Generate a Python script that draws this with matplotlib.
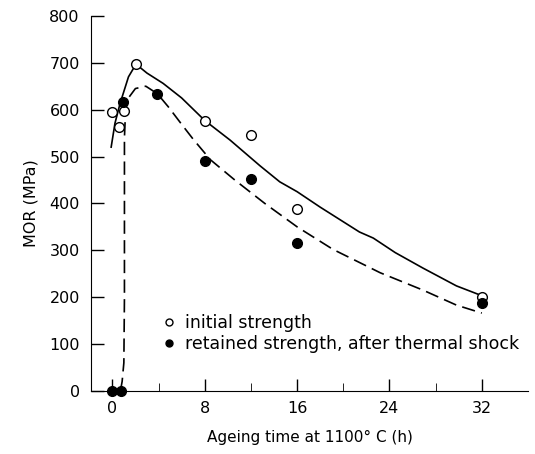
import numpy as np
import matplotlib.pyplot as plt
from matplotlib.lines import Line2D

# measured points (ageing time in h, MOR in MPa)
init_t = [0, 0.6, 1.0, 2.05, 8, 12, 16, 32]
init_mor = [595, 562, 598, 697, 575, 546, 389, 200]

ret_t = [0, 0.75, 0.95, 3.9, 8, 12, 16, 32]
ret_mor = [0, 0, 616, 634, 490, 452, 316, 187]

# hand-drawn trend curves
solid_t = [-0.1, 0.23, 0.67, 1.4, 2.05, 3.0, 4.4, 6.0, 8.0, 10.2, 12.8, 14.5,
           16.0, 18.0, 21.4, 22.6, 24.5, 26.9, 29.8, 31.8]
solid_mor = [520, 571, 613, 670, 697, 678, 656, 625, 577, 535, 480, 446,
             425, 392, 339, 326, 295, 262, 224, 205]

dash_t = [0.7, 0.85, 1.0, 1.05, 1.05, 1.05, 1.15, 1.4, 2.0, 2.9, 3.9, 4.85,
          5.9, 7.0, 8.5, 10.6, 13.2, 16.0, 19.1, 23.2, 26.9, 29.8, 32.0]
dash_mor = [0, 20, 60, 200, 400, 540, 600, 625, 645, 650, 634, 606,
            572, 537, 493, 450, 400, 350, 302, 252, 215, 183, 166]

fig = plt.figure(figsize=(5.35, 4.54), dpi=100)
ax = fig.add_axes([0.170, 0.139, 0.817, 0.826])

ax.plot(solid_t, solid_mor, color='black', lw=1.2)
ax.plot(dash_t, dash_mor, color='black', lw=1.2, dashes=(8, 3.8))
ax.plot(init_t, init_mor, 'o', ms=7, mfc='white', mec='black', mew=1.0, clip_on=False, zorder=3)
ax.plot(ret_t, ret_mor, 'o', ms=7, mfc='black', mec='black', clip_on=False, zorder=3)

ax.set_xlim(-1.85, 36)
ax.set_ylim(0, 800)
ax.spines['top'].set_visible(False)
ax.spines['right'].set_visible(False)
ax.set_xticks([0, 8, 16, 24, 32])
ax.set_xticks([4, 12, 20, 28], minor=True)
ax.set_yticks(np.arange(0, 801, 100))
ax.tick_params(axis='both', direction='in', labelsize=11.5, length=9, width=1)
ax.tick_params(axis='x', which='minor', direction='in', length=6)
ax.tick_params(axis='y', pad=8)
ax.tick_params(axis='x', pad=7)

ax.set_xlabel('Ageing time at 1100° C (h)', fontsize=11, labelpad=10)
ax.set_ylabel('MOR (MPa)', fontsize=11.5, labelpad=8)

handles = [Line2D([], [], ls='none', marker='o', ms=5, mfc='white', mec='black'),
           Line2D([], [], ls='none', marker='o', ms=5, mfc='black', mec='black')]
ax.legend(handles, ['initial strength', 'retained strength, after thermal shock'],
          loc='lower left', bbox_to_anchor=(0.125, 0.059), frameon=False,
          fontsize=12.5, handlelength=0.9, handletextpad=0.45, labelspacing=0.2)

plt.savefig('out.png', dpi=100)
